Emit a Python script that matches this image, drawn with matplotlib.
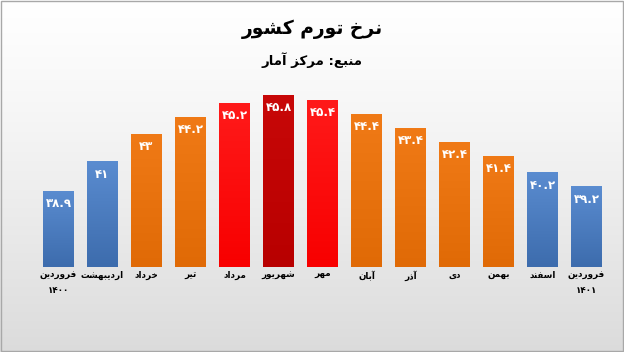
import numpy as np
import matplotlib
matplotlib.use('Agg')
from matplotlib import pyplot as plt

# chart data
months = ['فروردین\n۱۴۰۰', 'اردیبهشت', 'خرداد', 'تیر', 'مرداد', 'شهریور', 'مهر',
          'آبان', 'آذر', 'دی', 'بهمن', 'اسفند', 'فروردین\n۱۴۰۱']
values = [38.9, 41, 43, 44.2, 45.2, 45.8, 45.4, 44.4, 43.4, 42.4, 41.4, 40.2, 39.2]
groups = ['b', 'b', 'o', 'o', 'r', 'd', 'r', 'o', 'o', 'o', 'o', 'b', 'b']
title = 'نرخ تورم کشور'
subtitle = 'منبع: مرکز آمار'

palette = {'b': ('#5a8cd0', '#3d6cad'),
           'o': ('#f07a16', '#e06a06'),
           'r': ('#ff1a1a', '#f80000'),
           'd': ('#c80808', '#b80000')}

# minimal arabic/persian shaping (matplotlib has no bidi support)
# char: (isolated, final, initial, medial)
FORMS = {
    'ا': ('\uFE8D', '\uFE8E', None, None),
    'آ': ('\uFE81', '\uFE82', None, None),
    'ب': ('\uFE8F', '\uFE90', '\uFE91', '\uFE92'),
    'ت': ('\uFE95', '\uFE96', '\uFE97', '\uFE98'),
    'خ': ('\uFEA5', '\uFEA6', '\uFEA7', '\uFEA8'),
    'د': ('\uFEA9', '\uFEAA', None, None),
    'ذ': ('\uFEAB', '\uFEAC', None, None),
    'ر': ('\uFEAD', '\uFEAE', None, None),
    'ز': ('\uFEAF', '\uFEB0', None, None),
    'س': ('\uFEB1', '\uFEB2', '\uFEB3', '\uFEB4'),
    'ش': ('\uFEB5', '\uFEB6', '\uFEB7', '\uFEB8'),
    'ع': ('\uFEC9', '\uFECA', '\uFECB', '\uFECC'),
    'ف': ('\uFED1', '\uFED2', '\uFED3', '\uFED4'),
    'م': ('\uFEE1', '\uFEE2', '\uFEE3', '\uFEE4'),
    'ن': ('\uFEE5', '\uFEE6', '\uFEE7', '\uFEE8'),
    'ه': ('\uFEE9', '\uFEEA', '\uFEEB', '\uFEEC'),
    'و': ('\uFEED', '\uFEEE', None, None),
    'ک': ('\uFB8E', '\uFB8F', '\uFB90', '\uFB91'),
    'ی': ('\uFBFC', '\uFBFD', '\uFBFE', '\uFBFF'),
}


def dual(c):
    return c in FORMS and FORMS[c][2] is not None


def shape_word(s):
    out = []
    for i, c in enumerate(s):
        if c not in FORMS:
            out.append(c)
            continue
        prev = s[i - 1] if i > 0 else ''
        nxt = s[i + 1] if i + 1 < len(s) else ''
        jp = dual(prev)
        jn = dual(c) and nxt in FORMS
        f = FORMS[c]
        if jp and jn:
            out.append(f[3])
        elif jp:
            out.append(f[1])
        elif jn:
            out.append(f[2])
        else:
            out.append(f[0])
    return out


def rtl(s):
    lines = []
    for line in s.split('\n'):
        if all(ch in '۰۱۲۳۴۵۶۷۸۹.' for ch in line):
            lines.append(line)
        else:
            lines.append(''.join(reversed(shape_word(line))))
    return '\n'.join(lines)


def fa_digits(v):
    return f'{v:g}'.translate(str.maketrans('0123456789', '۰۱۲۳۴۵۶۷۸۹'))


plt.rcParams['font.family'] = ['DejaVu Sans']

fig = plt.figure(figsize=(6.24, 3.52), dpi=100)

# page background: white on top fading to light gray
bg = fig.add_axes([0, 0, 1, 1], zorder=-10)
grad = np.linspace(0, 1, 256).reshape(-1, 1, 1) ** 1.2
bg_img = np.ones((256, 1, 3)) * (1 - 0.14 * grad)
bg.imshow(bg_img, aspect='auto', extent=[0, 1, 0, 1], origin='upper')
bg.add_patch(plt.Rectangle((0.001, 0.002), 0.997, 0.995, fill=False,
                           edgecolor='#a8a8a8', lw=1.0, transform=bg.transAxes))
bg.set_xlim(0, 1)
bg.set_ylim(0, 1)
bg.axis('off')

ax = fig.add_axes([0.0585, 0.2415, 0.9167, 0.531])
ax.patch.set_alpha(0)
ymin, ymax = 33.4, 46.85
x = np.arange(len(values))
heights = np.array(values) - ymin
bars = ax.bar(x, heights, bottom=ymin, width=0.70, color='none', edgecolor='none')

for b, g in zip(bars, groups):
    top, bot = palette[g]
    c1 = np.array(matplotlib.colors.to_rgb(top))
    c2 = np.array(matplotlib.colors.to_rgb(bot))
    t = np.linspace(0, 1, 64).reshape(-1, 1, 1)
    img = c1 * (1 - t) + c2 * t
    x0, y0 = b.get_x(), b.get_y()
    im = ax.imshow(img, aspect='auto', origin='upper',
                   extent=[x0, x0 + b.get_width(), y0, y0 + b.get_height()], zorder=2)
    im.set_clip_path(b)

for b, v in zip(bars, values):
    ax.annotate(fa_digits(v), (b.get_x() + b.get_width() / 2, b.get_y() + b.get_height()),
                xytext=(0, -4.5), textcoords='offset points', ha='center', va='top',
                color='white', fontsize=8.5, fontweight='bold', zorder=3)

ax.set_xlim(-0.5, len(values) - 0.5)
ax.set_ylim(ymin, ymax)
ax.set_xticks(x)
ax.set_xticklabels([rtl(m) for m in months], fontsize=6.3, fontweight='bold',
                   linespacing=2.0, va='top')
ax.tick_params(axis='x', length=0, pad=2.5)
ax.set_yticks([])
for s in ax.spines.values():
    s.set_visible(False)

fig.text(0.5, 0.918, rtl(title), ha='center', va='center', fontsize=13.5, fontweight='bold')
fig.text(0.5, 0.83, rtl(subtitle), ha='center', va='center', fontsize=9.5, fontweight='bold')

fig.savefig('out.png', dpi=100)
